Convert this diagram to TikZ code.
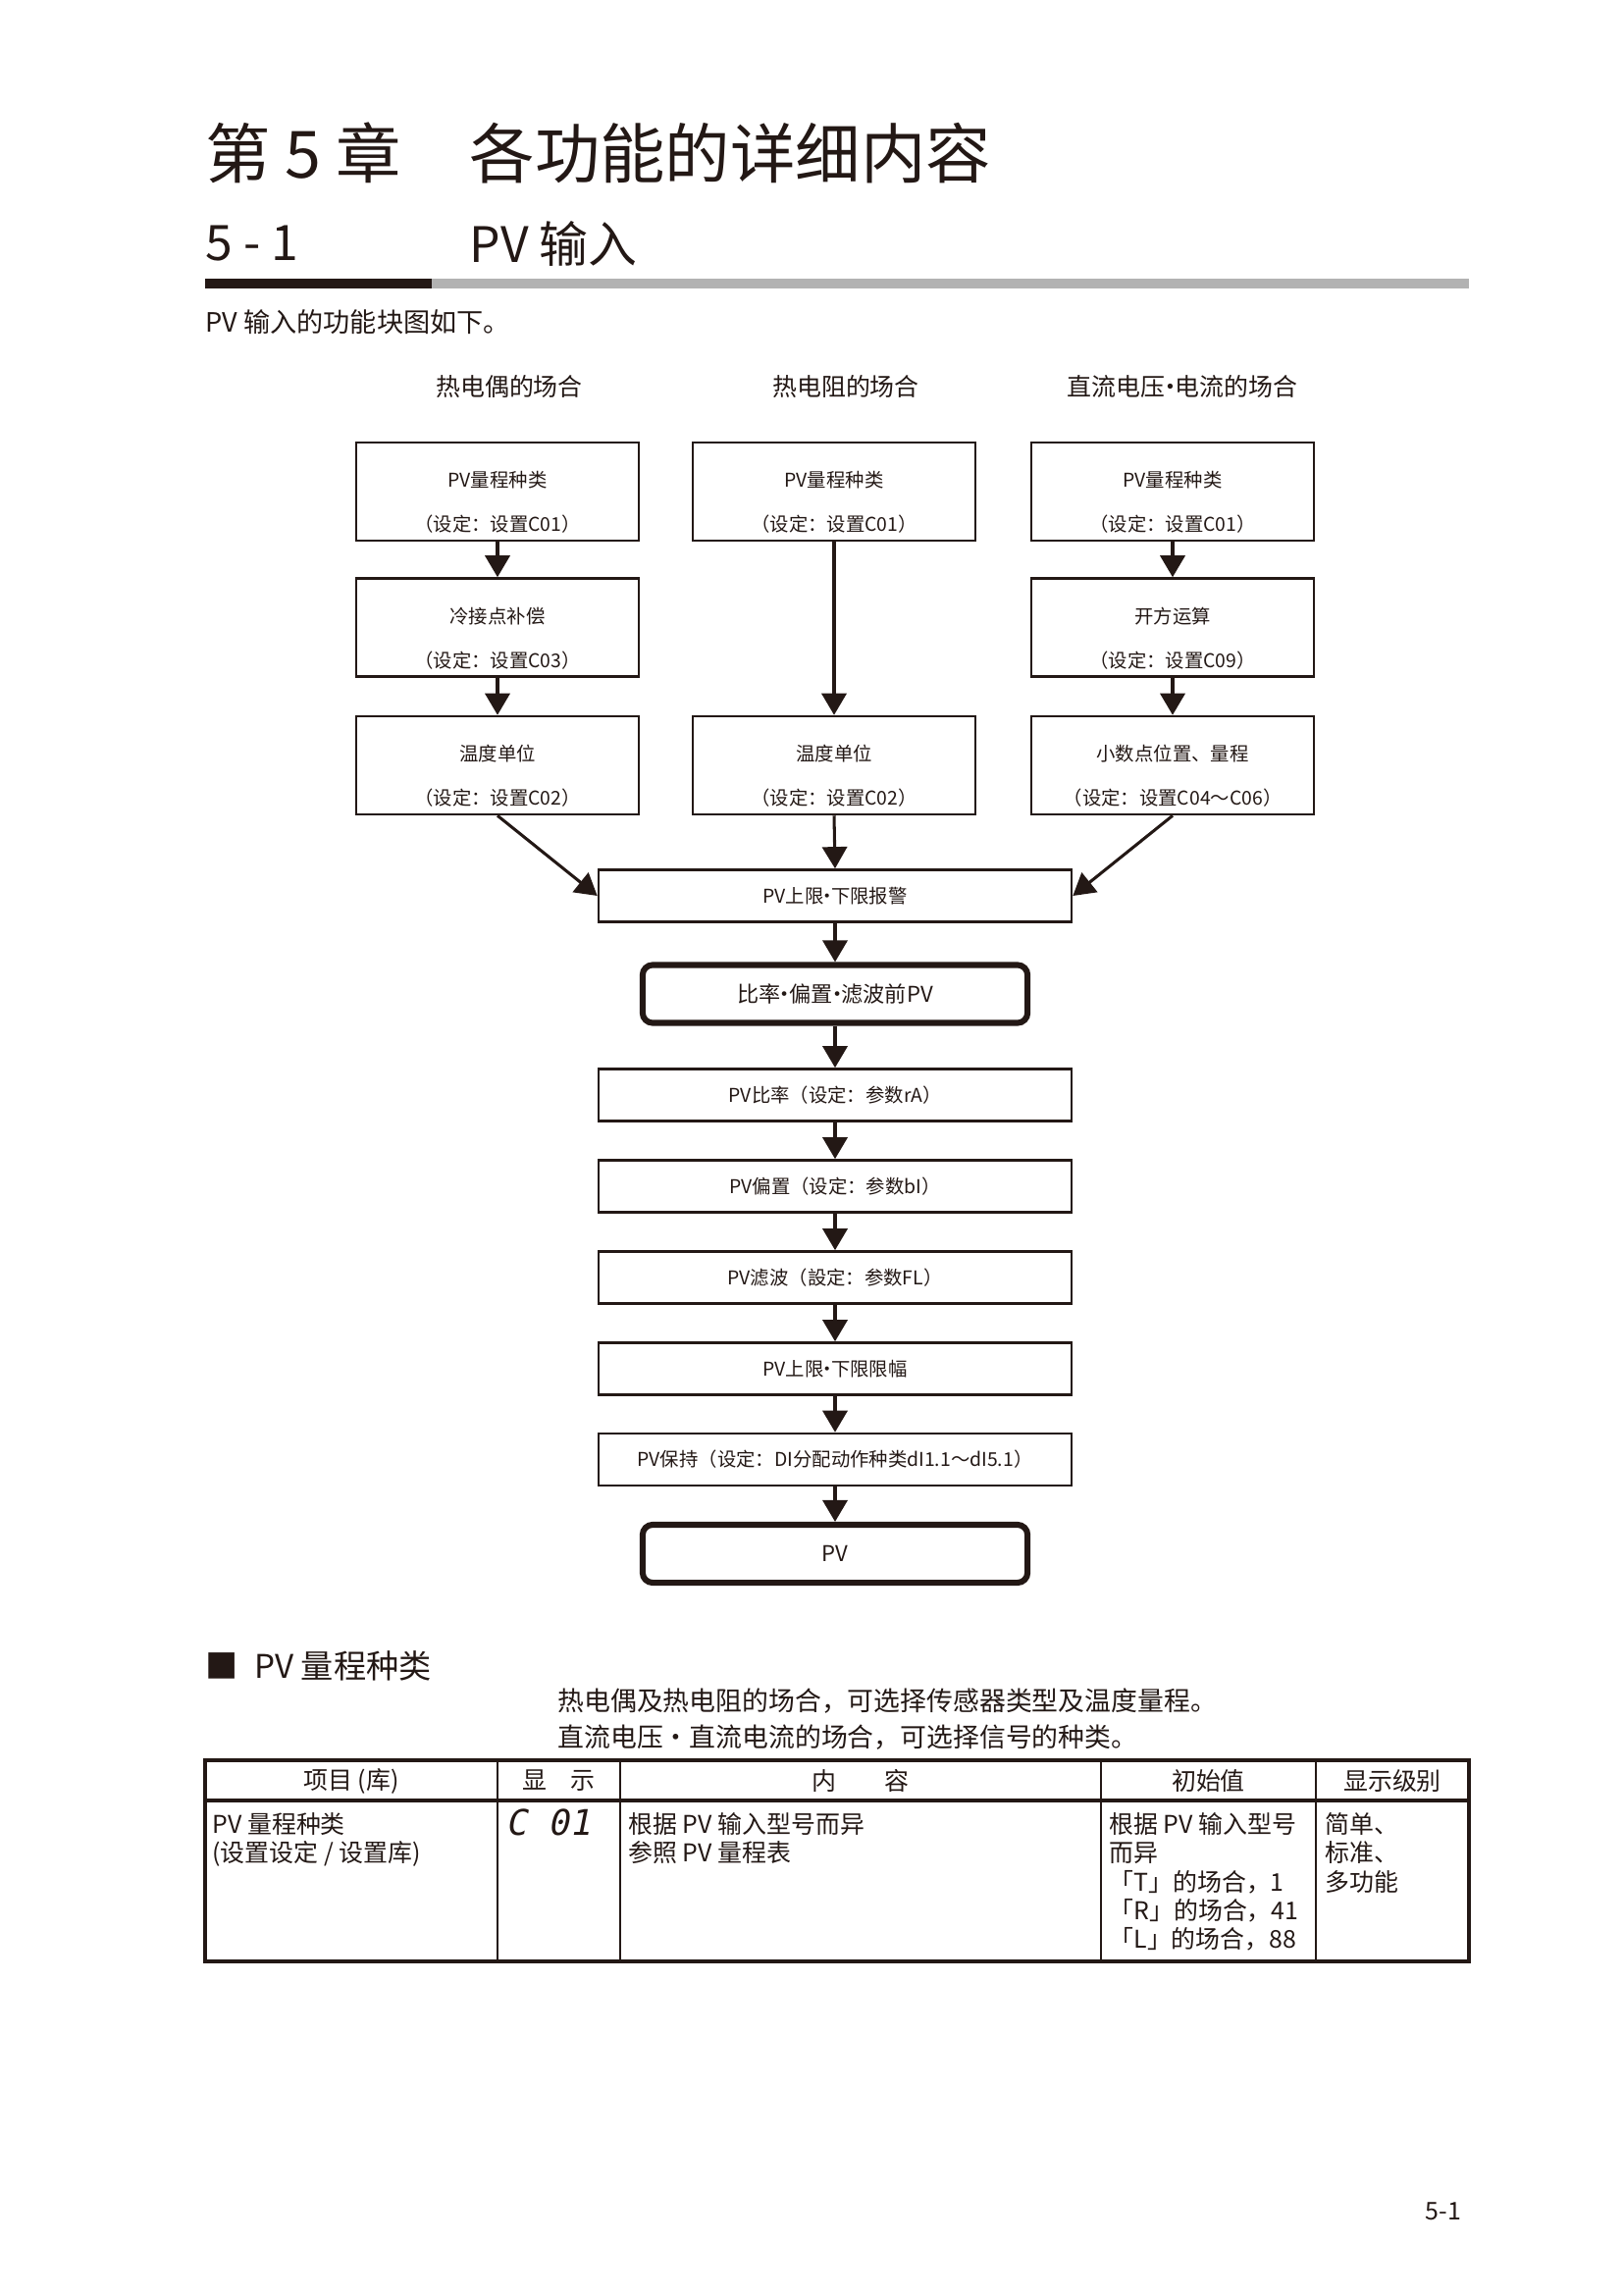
\documentclass[tikz,border=0pt]{standalone}
\usepackage{fontspec}
\setmainfont{Noto Sans CJK SC}
\newfontfamily\segfont[FakeSlant=0.2]{DejaVu Sans Mono}
\usetikzlibrary{arrows.meta}
\definecolor{ink}{RGB}{35,24,21}
\definecolor{rulegray}{RGB}{178,178,178}
\newcommand{\pvdot}{\kern-0.3em·\kern-0.3em}

\begin{document}
\begin{tikzpicture}[x=0.12696mm, y=-0.12696mm,
  every node/.style={inner sep=0pt, text=ink},
  srcbox/.style={draw=ink, line width=0.9pt, minimum width=36.6mm, minimum height=12.7mm,
    align=center, font=\fontsize{7pt}{8.4pt}\selectfont},
  stagebox/.style={draw=ink, line width=0.9pt, minimum width=61.2mm, minimum height=6.75mm,
    font=\fontsize{7pt}{8.4pt}\selectfont},
  valbox/.style={draw=ink, line width=2.2pt, rounded corners=1.3mm, minimum width=49.8mm,
    minimum height=7.5mm, font=\fontsize{8pt}{9.6pt}\selectfont},
  flow/.style={draw=ink, line width=1.1pt, -{Triangle[width=3.2mm, length=2.8mm]}},
  colhead/.style={font=\fontsize{9pt}{11pt}\selectfont},
  headcell/.style={font=\fontsize{9pt}{11pt}\selectfont},
  cell/.style={anchor=north west, align=left, font=\fontsize{9pt}{10.57pt}\selectfont},
]
\useasboundingbox (0,0) rectangle (1654,2339);

% Chapter and section heading
\node[anchor=west, font=\fontsize{24pt}{28pt}\selectfont] (chapno) at (209,156) {第 5 章};
\node[anchor=west, font=\fontsize{24pt}{28pt}\selectfont] (chapname) at (478,156) {各功能的详细内容};
\node[anchor=west, font=\fontsize{18pt}{22pt}\selectfont] (secno) at (209,248) {5 - 1};
\node[anchor=west, font=\fontsize{18pt}{22pt}\selectfont] (secname) at (478,248) {PV 输入};
\fill[ink] (209,284) rectangle (440,294);
\fill[rulegray] (440,284) rectangle (1497,294);
\node[anchor=west, font=\fontsize{9.8pt}{11pt}\selectfont] (intro) at (209,328) {PV 输入的功能块图如下。};

% Column headings
\node[colhead] (hdtc) at (519,394) {热电偶的场合};
\node[colhead] (hdrt) at (862,394) {热电阻的场合};
\node[colhead] (hddc) at (1205,394) {直流电压\pvdot 电流的场合};

% Thermocouple column
\node[srcbox] (tcA) at (507,501) {\rule{0pt}{4.85mm}PV量程种类\\[7.9pt]（设定：设置C01）};
\node[srcbox] (tcB) at (507,639.5) {\rule{0pt}{4.85mm}冷接点补偿\\[7.9pt]（设定：设置C03）};
\node[srcbox] (tcC) at (507,780) {\rule{0pt}{4.85mm}温度单位\\[7.9pt]（设定：设置C02）};
% RTD column
\node[srcbox] (rtA) at (850,501) {\rule{0pt}{4.85mm}PV量程种类\\[7.9pt]（设定：设置C01）};
\node[srcbox] (rtC) at (850,780) {\rule{0pt}{4.85mm}温度单位\\[7.9pt]（设定：设置C02）};
% DC voltage / current column
\node[srcbox] (dcA) at (1195,501) {\rule{0pt}{4.85mm}PV量程种类\\[7.9pt]（设定：设置C01）};
\node[srcbox] (dcB) at (1195,639.5) {\rule{0pt}{4.85mm}开方运算\\[7.9pt]（设定：设置C09）};
\node[srcbox] (dcC) at (1195,780) {\rule{0pt}{4.85mm}小数点位置、量程\\[7.9pt]（设定：设置C04～C06）};

% Common chain
\node[stagebox] (alarm) at (851,913) {PV上限\pvdot 下限报警};
\node[valbox] (prepv) at (851,1013) {比率\pvdot 偏置\pvdot 滤波前PV};
\node[stagebox] (ratio) at (851,1116) {PV比率（设定：参数rA）};
\node[stagebox] (bias) at (851,1209) {PV偏置（设定：参数bI）};
\node[stagebox] (filter) at (851,1302) {PV滤波（設定：参数FL）};
\node[stagebox] (limit) at (851,1395) {PV上限\pvdot 下限限幅};
\node[stagebox] (hold) at (851,1487.5) {PV保持（设定：DI分配动作种类dI1.1～dI5.1）};
\node[valbox] (pv) at (851,1583.5) {PV};

\draw[flow] (tcA) -- (tcB);
\draw[flow] (tcB) -- (tcC);
\draw[flow] (rtA) -- (rtC);
\draw[flow] (dcA) -- (dcB);
\draw[flow] (dcB) -- (dcC);
\draw[flow] (tcC.south) -- (alarm.west);
\draw[flow] (rtC.south) -- (alarm.north);
\draw[flow] (dcC.south) -- (alarm.east);
\draw[flow] (alarm) -- (prepv);
\draw[flow] (prepv) -- (ratio);
\draw[flow] (ratio) -- (bias);
\draw[flow] (bias) -- (filter);
\draw[flow] (filter) -- (limit);
\draw[flow] (limit) -- (hold);
\draw[flow] (hold) -- (pv);

% PV range type
\node[anchor=west, font=\fontsize{12pt}{14pt}\selectfont] (pvtype) at (209,1698) {■\enspace PV 量程种类};
\node[anchor=west, font=\fontsize{9.7pt}{12pt}\selectfont] (note1) at (568,1734) {热电偶及热电阻的场合，可选择传感器类型及温度量程。};
\node[anchor=west, font=\fontsize{9.7pt}{12pt}\selectfont] (note2) at (568,1771) {直流电压・直流电流的场合，可选择信号的种类。};

% Table
\draw[ink, line width=1.4pt] (209,1794) rectangle (1497,1999);
\draw[ink, line width=1.4pt] (209,1835) -- (1497,1835);
\draw[ink, line width=0.8pt] (507,1794) -- (507,1999) (632,1794) -- (632,1999)
  (1122,1794) -- (1122,1999) (1341,1794) -- (1341,1999);
\node[headcell] (thitem) at (358,1815) {项目 (库)};
\node[headcell] (thdisp) at (569.5,1815) {显　示};
\node[headcell] (thcont) at (877,1815) {内　　容};
\node[headcell] (thinit) at (1231.5,1815) {初始值};
\node[headcell] (thlevel) at (1419,1815) {显示级别};
\node[cell] (tditem) at (216,1847) {PV 量程种类\\(设置设定 / 设置库)};
\node[anchor=west, font=\segfont\fontsize{13pt}{15pt}\selectfont] (tddisp) at (515,1857) {C 01};
\node[cell] (tdcont) at (640,1847) {根据 PV 输入型号而异\\参照 PV 量程表};
\node[cell] (tdinit) at (1130,1847) {根据 PV 输入型号\\而异\\「T」的场合，1\\「R」的场合，41\\「L」的场合，88};
\node[cell] (tdlevel) at (1350,1847) {简单、\\标准、\\多功能};

\node[font=\fontsize{9pt}{11pt}\selectfont] (pageno) at (1471,2254) {5-1};
\end{tikzpicture}
\end{document}
